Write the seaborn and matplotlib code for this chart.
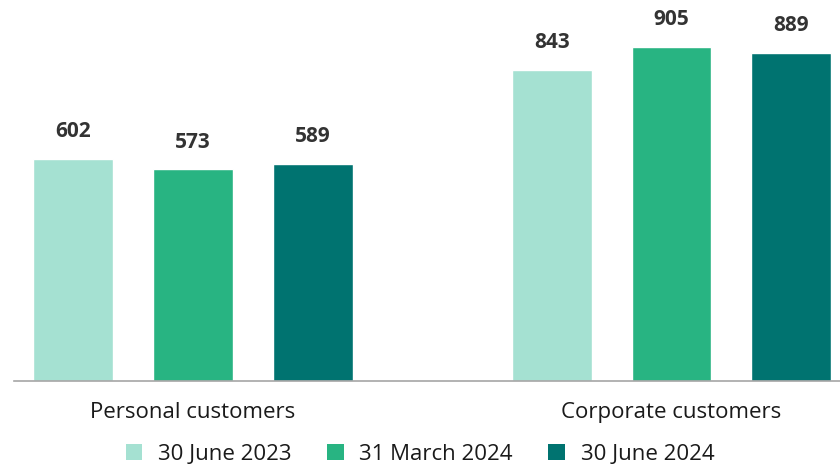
import pandas as pd
import seaborn as sns
import matplotlib.pyplot as plt
from matplotlib.patches import Patch

# Data
categories = ["Personal customers", "Corporate customers"]
periods = ["30 June 2023", "31 March 2024", "30 June 2024"]
values_jun23 = [602, 843]
values_mar24 = [573, 905]
values_jun24 = [589, 889]
colors = ["#A5E1D2", "#28B482", "#007370"]

df = pd.DataFrame({
    "category": categories * 3,
    "period": [periods[0]] * 2 + [periods[1]] * 2 + [periods[2]] * 2,
    "value": values_jun23 + values_mar24 + values_jun24,
})

sns.set_style("white")
plt.rcParams["font.family"] = ["Open Sans", "DejaVu Sans"]

fig = plt.figure(figsize=(8.4, 4.68), dpi=100)
ax = fig.add_axes([14 / 840, 87 / 468, 1 - 14 / 840, 381 / 468])

sns.barplot(data=df, x="category", y="value", hue="period", hue_order=periods,
            palette=colors, width=0.75, gap=0.333, saturation=1, ax=ax, legend=False)

for cont in ax.containers:
    ax.bar_label(cont, fmt="%d", padding=12, fontsize=15, fontweight="bold", color="#333333")

ax.set_xlim(-0.374, 1.352)
ax.set_ylim(0, 1032)
ax.set_xlabel("")
ax.set_ylabel("")
ax.set_yticks([])
ax.tick_params(axis="x", length=0, labelsize=16, pad=15, colors="#1a1a1a")
for s in ["top", "right", "left"]:
    ax.spines[s].set_visible(False)
ax.spines["bottom"].set_color("#A6A6A6")
ax.spines["bottom"].set_linewidth(1.2)

handles = [Patch(facecolor=c, edgecolor="none") for c in colors]
leg = fig.legend(handles, periods, loc="lower center", ncol=3, frameon=False,
                 fontsize=16, bbox_to_anchor=(0.5, -0.036), handlelength=0.75,
                 handleheight=0.75, handletextpad=0.7, columnspacing=1.6)
for t in leg.get_texts():
    t.set_color("#1a1a1a")

fig.savefig("out.png", dpi=100)
